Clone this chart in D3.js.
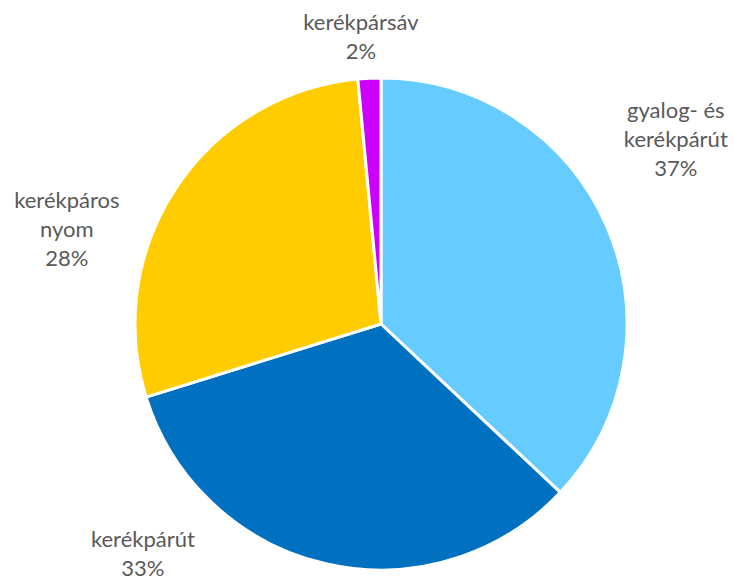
<!DOCTYPE html>
<html>
<head>
<meta charset="utf-8">
<script src="https://cdnjs.cloudflare.com/ajax/libs/d3/7.8.5/d3.min.js"></script>
<style>
  body { margin: 0; background: #fff; }
  text { font-family: Lato, "Liberation Sans", sans-serif; fill: #595959; }
</style>
</head>
<body>
<div id="chart"></div>
<script>
// slice data, clockwise from 12 o'clock
var categories = [["gyalog- és", "kerékpárút"], ["kerékpárút"], ["kerékpáros", "nyom"], ["kerékpársáv"]];
var shares = [37.0, 33.2, 28.3, 1.5];
var colors = ["#66CCFF", "#0070C0", "#FFCC00", "#CC00FF"];
// where Excel put each label: angle (deg, clockwise from top) and distance from centre
var labelAngle = [57.9, 226, 286.7, 356];
var labelDist = [348, 331, 328, 288];

var W = 734, H = 576;
var cx = 381, cy = 324, r = 246;

var svg = d3.select("#chart").append("svg")
  .attr("width", W)
  .attr("height", H);

var g = svg.append("g").attr("transform", "translate(" + cx + "," + cy + ")");

var data = shares.map(function(v, i){ return {name: categories[i], val: v, i: i}; });

var pie = d3.pie().sort(null).value(function(d){ return d.val; });
var arc = d3.arc().innerRadius(0).outerRadius(r);

g.selectAll(".slice")
  .data(pie(data))
  .enter().append("path")
    .attr("class", "slice")
    .attr("d", arc)
    .attr("fill", function(d){ return colors[d.data.i]; })
    .attr("stroke", "#fff")
    .attr("stroke-width", 3)
    .attr("stroke-linejoin", "round");

var lineH = 29;
var labels = g.selectAll(".lbl")
  .data(data)
  .enter().append("text")
    .attr("class", "lbl")
    .attr("text-anchor", "middle")
    .style("font-size", "22px")
    .attr("transform", function(d){
      var p = d3.pointRadial(labelAngle[d.i] * Math.PI / 180, labelDist[d.i]);
      return "translate(" + p[0] + "," + p[1] + ")";
    });

labels.each(function(d){
  var lines = d.name.concat([Math.round(d.val) + "%"]);
  var t = d3.select(this);
  var y0 = -(lines.length - 1) * lineH / 2;
  lines.forEach(function(s, k){
    t.append("tspan")
      .attr("x", 0)
      .attr("y", y0 + k * lineH)
      .attr("dy", "0.35em")
      .text(s);
  });
});
</script>
</body>
</html>
